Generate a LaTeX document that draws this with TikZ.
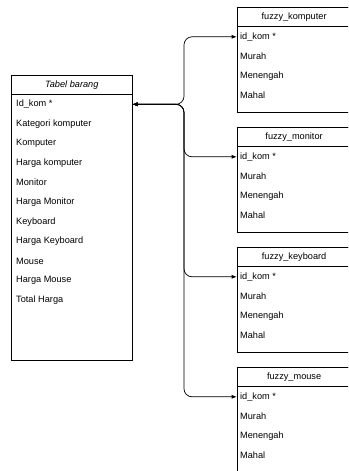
\documentclass[tikz,border=0pt]{standalone}
\usepackage{fontspec}
\setmainfont{Liberation Sans}
\usetikzlibrary{arrows.meta,positioning}

\begin{document}
\begin{tikzpicture}[x=1pt,y=-1pt,
  tbl/.style={draw,anchor=north west,line width=0.8pt,inner sep=0pt},
  hdr/.style={draw,anchor=north west,line width=0.8pt,inner sep=0pt,
              font=\fontsize{9.2}{11}\selectfont},
  fld/.style={anchor=west,inner sep=0pt,font=\fontsize{9.2}{11}\selectfont},
  link/.style={{Latex[length=5pt,width=4pt]}-{Latex[length=5pt,width=4pt]},
               rounded corners=8pt,line width=0.7pt},
]
\useasboundingbox (0,0) rectangle (348,471);
\clip (0,0) rectangle (348,471);

% main table
\node[tbl,minimum width=120.7pt,minimum height=285.3pt] (barang) at (11,74.7) {};
\node[hdr,minimum width=120.7pt,minimum height=19.6pt] (barang-h) at (11,74.7) {\textit{Tabel barang}};
\node[fld] (barang-id) at (16,104.3) {Id\_kom *};
\node[fld] (barang-kat) at (16,123.9) {Kategori komputer};
\node[fld] (barang-kom) at (16,143.5) {Komputer};
\node[fld] (barang-hkom) at (16,163.1) {Harga komputer};
\node[fld] (barang-mon) at (16,182.7) {Monitor};
\node[fld] (barang-hmon) at (16,202.3) {Harga Monitor};
\node[fld] (barang-key) at (16,221.9) {Keyboard};
\node[fld] (barang-hkey) at (16,241.5) {Harga Keyboard};
\node[fld] (barang-mou) at (16,261.1) {Mouse};
\node[fld] (barang-hmou) at (16,280.7) {Harga Mouse};
\node[fld] (barang-tot) at (16,300.3) {Total Harga};

% fuzzy tables
\node[tbl,minimum width=114pt,minimum height=105pt] (komputer) at (236.7,7.3) {};
\node[hdr,minimum width=114pt,minimum height=18.7pt] (komputer-h) at (236.7,7.3) {fuzzy\_komputer};
\node[fld] (komputer-id) at (240,36.8) {id\_kom *};
\node[fld] (komputer-m1) at (240,56.4) {Murah};
\node[fld] (komputer-m2) at (240,76) {Menengah};
\node[fld] (komputer-m3) at (240,95.6) {Mahal};

\node[tbl,minimum width=114pt,minimum height=105pt] (monitor) at (236.7,127.3) {};
\node[hdr,minimum width=114pt,minimum height=18.7pt] (monitor-h) at (236.7,127.3) {fuzzy\_monitor};
\node[fld] (monitor-id) at (240,156.8) {id\_kom *};
\node[fld] (monitor-m1) at (240,176.4) {Murah};
\node[fld] (monitor-m2) at (240,196) {Menengah};
\node[fld] (monitor-m3) at (240,215.6) {Mahal};

\node[tbl,minimum width=114pt,minimum height=105pt] (keyboard) at (236.7,247.3) {};
\node[hdr,minimum width=114pt,minimum height=18.7pt] (keyboard-h) at (236.7,247.3) {fuzzy\_keyboard};
\node[fld] (keyboard-id) at (240,276.8) {id\_kom *};
\node[fld] (keyboard-m1) at (240,296.4) {Murah};
\node[fld] (keyboard-m2) at (240,316) {Menengah};
\node[fld] (keyboard-m3) at (240,335.6) {Mahal};

\node[tbl,minimum width=114pt,minimum height=105pt] (mouse) at (236.7,367.3) {};
\node[hdr,minimum width=114pt,minimum height=18.7pt] (mouse-h) at (236.7,367.3) {fuzzy\_mouse};
\node[fld] (mouse-id) at (240,396.8) {id\_kom *};
\node[fld] (mouse-m1) at (240,416.4) {Murah};
\node[fld] (mouse-m2) at (240,436) {Menengah};
\node[fld] (mouse-m3) at (240,455.6) {Mahal};

% relations
\coordinate (bus) at (184,0);
\draw[link] (barang-id -| barang.east) -- (barang-id -| bus) |- (komputer-id -| komputer.west);
\draw[link] (barang-id -| barang.east) -- (barang-id -| bus) |- (monitor-id -| monitor.west);
\draw[link] (barang-id -| barang.east) -- (barang-id -| bus) |- (keyboard-id -| keyboard.west);
\draw[link] (barang-id -| barang.east) -- (barang-id -| bus) |- (mouse-id -| mouse.west);
\end{tikzpicture}
\end{document}
